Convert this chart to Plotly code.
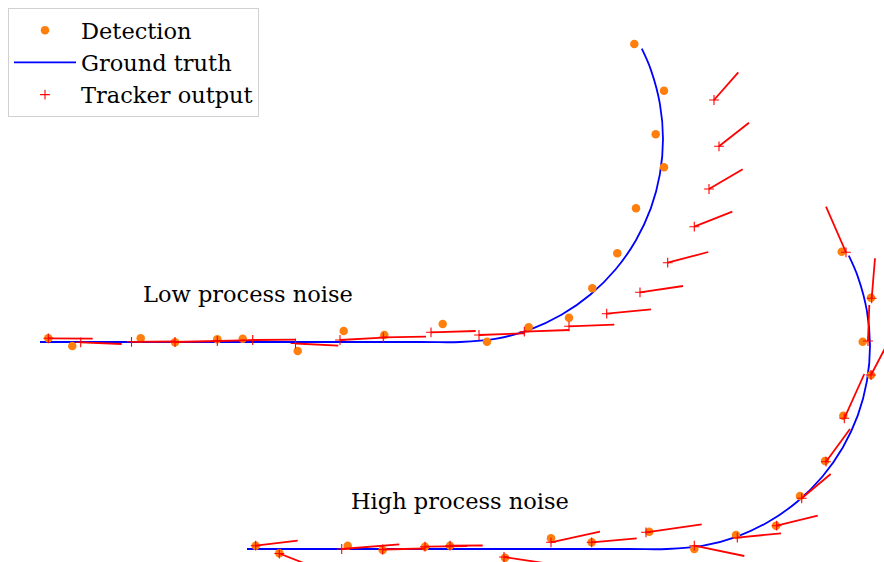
import plotly.graph_objects as go

# ---- Ground truth trajectories (straight run followed by a left turn) ----
truth_low_x = [0, 380, 420, 455.2, 489.4, 521.5, 550.5, 575.5, 595.8, 610.8, 619.9, 623, 619.9, 610.8, 601.8]
truth_low_y = [0, 0, 0, 3.1, 12.2, 27.2, 47.5, 72.5, 101.5, 133.6, 167.8, 203, 238.2, 272.4, 293.3]

truth_high_x = [207, 587, 627, 662.2, 696.4, 728.5, 757.5, 782.5, 802.8, 817.8, 826.9, 830, 826.9, 817.8, 808.8]
truth_high_y = [-207, -207, -207, -203.9, -194.8, -179.8, -159.5, -134.5, -105.5, -73.4, -39.2, -4, 31.2, 65.4, 86.3]

# ---- Detections ----
det_low_x = [8.3, 32.3, 100.7, 135, 177.3, 202.7, 257.7, 303.7, 344.3, 402.7,
             447, 488.7, 529, 552.3, 577.3, 596, 624, 615.7, 624, 594.3]
det_low_y = [3.7, -4, 3.7, -0.3, 2.7, 3.3, -9, 11, 7, 18,
             0.3, 14.7, 24.3, 53.7, 88.7, 133.7, 174.7, 207.7, 251.3, 298]

det_high_x = [215.7, 239.3, 307.7, 342.7, 385, 410, 465, 511, 551.7, 609.3,
              654.3, 696, 736, 760, 785, 803.3, 831, 822.7, 831, 801.7]
det_high_y = [-203.7, -211.3, -203.7, -208, -204.7, -203.7, -215.7, -196.3, -200.3, -189.7,
              -207, -193, -183.7, -154, -119, -73.7, -33, 0.3, 44.3, 90.3]

# ---- Tracker output: position estimate and velocity estimate ----
trk_low_x = [8.3, 40.7, 91.5, 135, 177.3, 212.7, 255.5, 300, 343.3, 391,
             439, 484.3, 529, 566.7, 600, 627.7, 654.3, 669, 679, 674]
trk_low_y = [3.7, -0.3, 0.2, 0, 1, 2, -1.5, 2, 4.7, 9.7,
             7, 10.3, 15.7, 28.3, 49.7, 79.3, 115.3, 153, 195.7, 242]
trk_low_vx = [44.4, 41, 43.5, 42, 42.7, 42.3, 42.8, 43, 42.7, 44.7,
              46, 45, 45.3, 44.3, 43, 40.6, 38, 33.7, 30, 24.3]
trk_low_vy = [-0.4, -1.7, 0.3, 1, 1, 0.3, -2.2, 2.3, 0.6, 1.3,
              1.7, 1.7, 1.6, 4.4, 6.3, 10.7, 15, 19.7, 23.6, 27.7]

trk_high_x = [215.7, 239.3, 301.7, 342.7, 385, 410, 464, 511, 551.7, 606,
              654.3, 697.3, 736.7, 761.7, 786, 804.3, 831, 828, 831.7, 806]
trk_high_y = [-203.7, -211.5, -207, -207.5, -204.7, -203.7, -215, -200.3, -200.3, -190.3,
              -203.7, -195.7, -183.7, -156.3, -119.7, -76.3, -33, 1, 43.7, 89.7]
trk_high_vx = [42, 39.7, 57.6, 42.3, 42, 32.7, 43, 49, 45, 55.7,
               50, 43.7, 41, 29, 24, 20, 20, 1.3, 3.3, -20]
trk_high_vy = [5, -15.5, 4.7, 1, 0.5, 0.2, -6.5, 10.6, 4, 8,
               -10.3, 4.4, 10, 24.3, 32.7, 44.3, 38, 36, 40, 45.6]

scenario_labels = ["Low process noise", "High process noise"]
label_x = [208, 420]
label_y = [48, -159]

ORANGE = "#ff7f0e"
BLUE = "#0000ff"
RED = "#ff0000"
FONT = "DejaVu Serif"

fig = go.Figure()


def velocity_segments(xs, ys, vxs, vys):
    sx, sy = [], []
    for x, y, vx, vy in zip(xs, ys, vxs, vys):
        sx += [x, x + vx, None]
        sy += [y, y + vy, None]
    return sx, sy


scenarios = [
    (truth_low_x, truth_low_y, det_low_x, det_low_y, trk_low_x, trk_low_y, trk_low_vx, trk_low_vy),
    (truth_high_x, truth_high_y, det_high_x, det_high_y, trk_high_x, trk_high_y, trk_high_vx, trk_high_vy),
]

for i, (gx, gy, dx, dy, tx, ty, tvx, tvy) in enumerate(scenarios):
    first = i == 0
    fig.add_trace(go.Scatter(
        x=gx, y=gy, mode="lines", line=dict(color=BLUE, width=1.8, shape="spline", smoothing=1),
        name="Ground truth", legendgroup="gt", showlegend=first, legendrank=2, hoverinfo="skip"))
    fig.add_trace(go.Scatter(
        x=dx, y=dy, mode="markers", marker=dict(color=ORANGE, size=8.5, line=dict(width=0)),
        name="Detection", legendgroup="det", showlegend=first, legendrank=1, hoverinfo="skip"))
    sx, sy = velocity_segments(tx, ty, tvx, tvy)
    fig.add_trace(go.Scatter(
        x=sx, y=sy, mode="lines", line=dict(color=RED, width=1.8),
        showlegend=False, hoverinfo="skip"))
    fig.add_trace(go.Scatter(
        x=tx, y=ty, mode="markers",
        marker=dict(symbol="cross-thin", size=7, line=dict(color=RED, width=1.1), color=RED),
        name="Tracker output", legendgroup="trk", showlegend=first, legendrank=3, hoverinfo="skip"))

for text, x, y in zip(scenario_labels, label_x, label_y):
    fig.add_annotation(x=x, y=y, text=text, showarrow=False,
                       font=dict(family=FONT, size=22.5, color="black"),
                       xanchor="center", yanchor="middle")

fig.update_xaxes(range=[-40, 844], visible=False, showgrid=False, zeroline=False)
fig.update_yaxes(range=[-220, 342], visible=False, showgrid=False, zeroline=False)

fig.update_layout(
    width=884, height=562,
    margin=dict(l=0, r=0, t=0, b=0),
    paper_bgcolor="white", plot_bgcolor="white",
    showlegend=True,
    legend=dict(x=8 / 884, y=1 - 8 / 562, xanchor="left", yanchor="top",
                bgcolor="white", bordercolor="#d0d0d0", borderwidth=1,
                font=dict(family=FONT, size=22.5, color="black"),
                itemwidth=62, tracegroupgap=0),
)

fig.write_html("out.html")
